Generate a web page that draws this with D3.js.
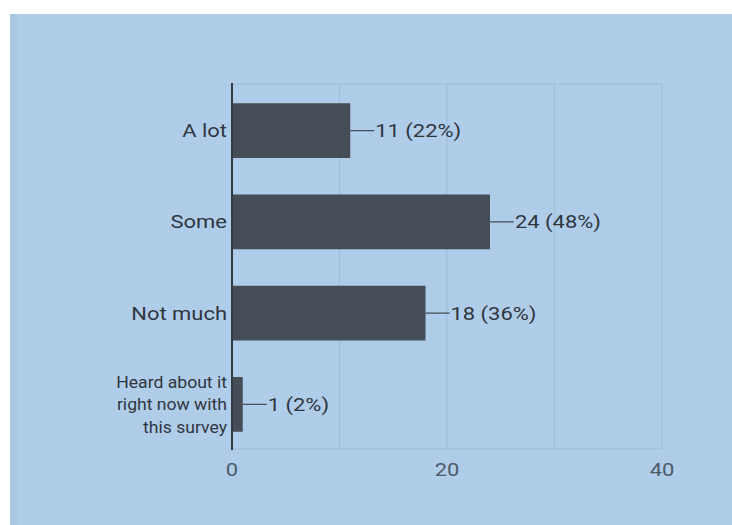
<!DOCTYPE html>
<html lang="en">
<head>
	<meta charset="UTF-8">
	<title>survey bars</title>
	<script src="https://cdn.jsdelivr.net/npm/d3@7"></script>
	<style>
		body { margin: 0; background: #fff; }
		text { font-family: Roboto, "Noto Sans", sans-serif; font-weight: 400; }
	</style>
</head>
<body>
	<script>

		var categories = [["A lot"], ["Some"], ["Not much"], ["Heard about it", "right now with", "this survey"]];
		var counts = [11, 24, 18, 1];
		var percents = ["22%", "48%", "36%", "2%"];
		var tickValues = [0, 20, 40];
		var gridValues = [10, 20, 30, 40];

		var stretch = 1.22; // the screenshot text is wider than plain Roboto

		var svg = d3.select("body").append("svg").attr("width", 732).attr("height", 525);

		// panel background
		svg.append("rect").attr("x", 10).attr("y", 14).attr("width", 722).attr("height", 511).attr("fill", "#afcde9");
		svg.append("rect").attr("x", 10).attr("y", 14).attr("width", 9).attr("height", 511).attr("fill", "#a9c8e4");

		var x = d3.scaleLinear().domain([0, 40]).range([232, 662]);
		var y = d3.scaleBand().domain(d3.range(counts.length)).range([84, 449]).paddingInner(0.4).paddingOuter(0.2);
		var mid = i => y(i) + y.bandwidth() / 2;

		// grid
		svg.selectAll(".grid").data(gridValues).enter().append("line")
			.attr("x1", d => x(d)).attr("x2", d => x(d)).attr("y1", 84).attr("y2", 449)
			.attr("stroke", "#a2c0dc").attr("stroke-width", 1.5);
		svg.selectAll(".hgrid").data([84, 449]).enter().append("line")
			.attr("x1", x(0)).attr("x2", x(40)).attr("y1", d => d).attr("y2", d => d)
			.attr("stroke", "#a2c0dc").attr("stroke-width", 1.5);

		// bars
		svg.selectAll(".bar").data(counts).enter().append("rect")
			.attr("x", x(0)).attr("y", (d, i) => y(i) + 1)
			.attr("width", d => x(d) - x(0)).attr("height", y.bandwidth())
			.attr("fill", "#454d57");

		// leader lines and value labels
		svg.selectAll(".lead").data(counts).enter().append("line")
			.attr("x1", d => x(d)).attr("x2", d => x(d) + 24)
			.attr("y1", (d, i) => mid(i) + 1).attr("y2", (d, i) => mid(i) + 1)
			.attr("stroke", "#4a525c").attr("stroke-width", 1.3);
		svg.selectAll(".val").data(counts).enter().append("text")
			.attr("transform", (d, i) => "translate(" + (x(d) + 25) + "," + (mid(i) + 1) + ") scale(" + stretch + ",1)")
			.attr("dy", "0.36em").attr("font-size", 18).attr("fill", "#2f3640")
			.text((d, i) => d + " (" + percents[i] + ")");

		// category labels (the wrapped one is drawn smaller, as in the source)
		categories.forEach(function (lines, i) {
			var wrapped = lines.length > 1;
			var fs = wrapped ? 16 : 18;
			var sx = wrapped ? 1.1 : stretch;
			var t = svg.append("text").attr("text-anchor", "end").attr("font-size", fs).attr("fill", "#2f3640")
				.attr("font-weight", wrapped ? 500 : 400)
				.attr("transform", "translate(227," + (mid(i) + 1) + ") scale(" + sx + ",1)");
			lines.forEach(function (s, k) {
				t.append("tspan").attr("x", 0).attr("y", (k - (lines.length - 1) / 2) * 22.5).attr("dy", "0.36em").text(s);
			});
		});

		// x tick labels
		svg.selectAll(".tick").data(tickValues).enter().append("text")
			.attr("transform", d => "translate(" + x(d) + ",470) scale(" + stretch + ",1)")
			.attr("dy", "0.36em").attr("text-anchor", "middle")
			.attr("font-size", 18).attr("fill", "#4d5a6b").text(d => d);

		// baseline axis
		svg.append("line").attr("x1", x(0)).attr("x2", x(0)).attr("y1", 83).attr("y2", 450)
			.attr("stroke", "#333a44").attr("stroke-width", 2);

	</script>
</body>
</html>
